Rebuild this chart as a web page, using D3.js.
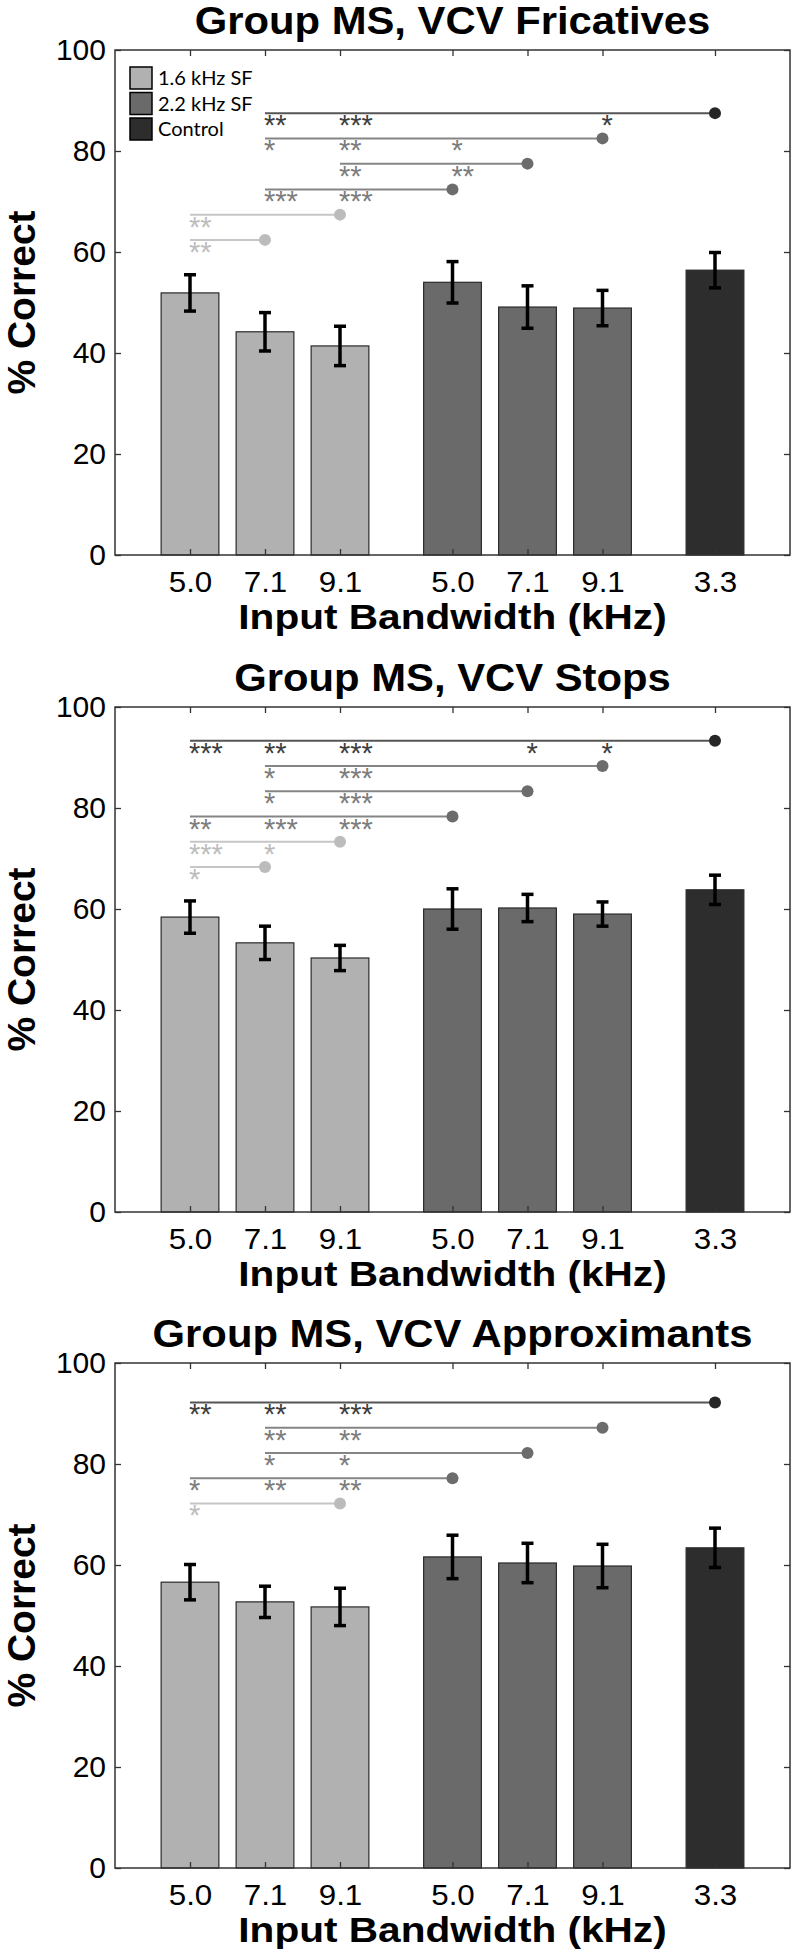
<!DOCTYPE html>
<html>
<head>
<meta charset="utf-8">
<script src="https://cdn.jsdelivr.net/npm/d3@7"></script>
<style>
  html, body { margin: 0; padding: 0; background: #fff; }
  svg { display: block; }
</style>
</head>
<body>
<svg id="chart" width="792" height="1957"></svg>
<script>
// ---------------- DATA ----------------
const categories = ["5.0", "7.1", "9.1", "5.0", "7.1", "9.1", "3.3"];
const categoryPos = [1, 2, 3, 4.5, 5.5, 6.5, 8];
const categoryGroup = [0, 0, 0, 1, 1, 1, 2];
const groupNames = ["1.6 kHz SF", "2.2 kHz SF", "Control"];
const yTicks = [0, 20, 40, 60, 80, 100];

const titles = ["Group MS, VCV Fricatives", "Group MS, VCV Stops", "Group MS, VCV Approximants"];

const fricMeans   = [51.9, 44.2, 41.4, 54.0, 49.1, 48.9, 56.4];
const fricErr     = [3.6, 3.8, 3.9, 4.1, 4.2, 3.5, 3.5];
const stopMeans   = [58.4, 53.3, 50.3, 60.0, 60.2, 59.0, 63.8];
const stopErr     = [3.2, 3.3, 2.5, 4.0, 2.7, 2.4, 2.9];
const approxMeans = [56.6, 52.7, 51.7, 61.6, 60.4, 59.8, 63.4];
const approxErr   = [3.5, 3.1, 3.7, 4.3, 3.9, 4.3, 3.9];

// significance lines: level (% correct), target category index (dot), stars [category index, label]
const fricSig = [
  { level: 87.5, target: 6, stars: [[1, "**"], [2, "***"], [5, "*"]] },
  { level: 82.5, target: 5, stars: [[1, "*"], [2, "**"], [3, "*"]] },
  { level: 77.5, target: 4, stars: [[2, "**"], [3, "**"]] },
  { level: 72.4, target: 3, stars: [[1, "***"], [2, "***"]] },
  { level: 67.4, target: 2, stars: [[0, "**"]] },
  { level: 62.4, target: 1, stars: [[0, "**"]] }
];
const stopSig = [
  { level: 93.3, target: 6, stars: [[0, "***"], [1, "**"], [2, "***"], [4, "*"], [5, "*"]] },
  { level: 88.3, target: 5, stars: [[1, "*"], [2, "***"]] },
  { level: 83.3, target: 4, stars: [[1, "*"], [2, "***"]] },
  { level: 78.3, target: 3, stars: [[0, "**"], [1, "***"], [2, "***"]] },
  { level: 73.3, target: 2, stars: [[0, "***"], [1, "*"]] },
  { level: 68.3, target: 1, stars: [[0, "*"]] }
];
const approxSig = [
  { level: 92.2, target: 6, stars: [[0, "**"], [1, "**"], [2, "***"]] },
  { level: 87.2, target: 5, stars: [[1, "**"], [2, "**"]] },
  { level: 82.2, target: 4, stars: [[1, "*"], [2, "*"]] },
  { level: 77.2, target: 3, stars: [[0, "*"], [1, "**"], [2, "**"]] },
  { level: 72.2, target: 2, stars: [[0, "*"]] }
];

// ---------------- STYLE ----------------
const barFill  = ["#b1b1b1", "#6a6a6a", "#2d2d2d"];
const lineCol  = ["#c6c6c6", "#858585", "#555555"];
const dotCol   = ["#bcbcbc", "#6c6c6c", "#262626"];
const starCol  = ["#bdbdbd", "#7d7d7d", "#3f3f3f"];
const FONT = "'Liberation Sans', Arial, Helvetica, sans-serif";

const panels = [
  { title: titles[0], means: fricMeans,   errs: fricErr,   sig: fricSig,   top: 50,   legend: true },
  { title: titles[1], means: stopMeans,   errs: stopErr,   sig: stopSig,   top: 707,  legend: false },
  { title: titles[2], means: approxMeans, errs: approxErr, sig: approxSig, top: 1363, legend: false }
];

const svg = d3.select("#chart");
svg.append("rect").attr("width", 792).attr("height", 1957).attr("fill", "#fff");

const left = 115, right = 790, plotH = 505;
const x = d3.scaleLinear().domain([0, 9]).range([left, right]);
const barW = x(0.77) - x(0);
const cx = (left + right) / 2;

panels.forEach(p => {
  const y = d3.scaleLinear().domain([0, 100]).range([p.top + plotH, p.top]);
  const g = svg.append("g");
  const data = categories.map((c, i) => ({ c, i, pos: categoryPos[i], grp: categoryGroup[i], m: p.means[i], e: p.errs[i] }));

  // bars
  g.selectAll("rect.bar").data(data).join("rect")
    .attr("class", "bar")
    .attr("x", d => x(d.pos) - barW / 2)
    .attr("width", barW)
    .attr("y", d => y(d.m))
    .attr("height", d => y(0) - y(d.m))
    .attr("fill", d => barFill[d.grp])
    .attr("stroke", "#2a2a2a")
    .attr("stroke-width", 1.2);

  // error bars
  const eb = g.selectAll("g.eb").data(data).join("g").attr("class", "eb")
    .attr("stroke", "#000").attr("stroke-width", 3.5);
  eb.append("line").attr("x1", d => x(d.pos)).attr("x2", d => x(d.pos))
    .attr("y1", d => y(d.m - d.e)).attr("y2", d => y(d.m + d.e));
  eb.append("line").attr("x1", d => x(d.pos) - 6).attr("x2", d => x(d.pos) + 6)
    .attr("y1", d => y(d.m + d.e)).attr("y2", d => y(d.m + d.e));
  eb.append("line").attr("x1", d => x(d.pos) - 6).attr("x2", d => x(d.pos) + 6)
    .attr("y1", d => y(d.m - d.e)).attr("y2", d => y(d.m - d.e));

  // significance lines
  p.sig.forEach(s => {
    const grp = categoryGroup[s.target];
    const from = d3.min(s.stars, st => categoryPos[st[0]]);
    g.append("line")
      .attr("x1", x(from)).attr("x2", x(categoryPos[s.target]))
      .attr("y1", y(s.level)).attr("y2", y(s.level))
      .attr("stroke", lineCol[grp]).attr("stroke-width", 2);
    g.append("circle")
      .attr("cx", x(categoryPos[s.target])).attr("cy", y(s.level))
      .attr("r", 6).attr("fill", dotCol[grp]);
    s.stars.forEach(st => {
      g.append("text")
        .attr("x", x(categoryPos[st[0]]) - 1)
        .attr("y", y(s.level) + 22)
        .attr("font-family", FONT)
        .attr("font-size", 29)
        .attr("fill", starCol[grp])
        .text(st[1]);
    });
  });

  // axes (inward ticks)
  const yl = g.append("g").attr("transform", `translate(${left},0)`)
    .call(d3.axisLeft(y).tickValues(yTicks).tickSizeInner(-6).tickSizeOuter(0).tickPadding(9));
  const yr = g.append("g").attr("transform", `translate(${right},0)`)
    .call(d3.axisRight(y).tickValues(yTicks).tickSizeInner(-6).tickSizeOuter(0).tickFormat(""));
  const xt = g.append("g").attr("transform", `translate(0,${p.top})`)
    .call(d3.axisTop(x).tickValues(categoryPos).tickSizeInner(-6).tickSizeOuter(0).tickFormat(""));
  const xb = g.append("g").attr("transform", `translate(0,${p.top + plotH})`)
    .call(d3.axisBottom(x).tickValues(categoryPos).tickSizeInner(-6).tickSizeOuter(0)
      .tickFormat((d, i) => categories[i]).tickPadding(16));
  [yl, yr, xt, xb].forEach(a => {
    a.select(".domain").remove();
    a.selectAll(".tick line").attr("stroke", "#333").attr("stroke-width", 1.3);
    a.selectAll(".tick text").attr("font-family", FONT).attr("font-size", 30).attr("fill", "#000");
  });
  xb.selectAll(".tick text").attr("font-size", 29).attr("transform", "scale(1.08,1)")
    .attr("x", function () { return 0; });

  // box
  g.append("rect").attr("x", left).attr("y", p.top).attr("width", right - left).attr("height", plotH)
    .attr("fill", "none").attr("stroke", "#333").attr("stroke-width", 1.5);

  // title & labels (slightly wide lettering, as in the reference)
  g.append("text").attr("transform", `translate(${cx},${p.top - 16}) scale(1.1,1)`)
    .attr("text-anchor", "middle").attr("font-family", FONT).attr("font-weight", "bold")
    .attr("font-size", 38).text(p.title);
  g.append("text").attr("transform", `translate(${cx},${p.top + plotH + 74}) scale(1.16,1)`)
    .attr("text-anchor", "middle").attr("font-family", FONT).attr("font-weight", "bold")
    .attr("font-size", 35).text("Input Bandwidth (kHz)");
  g.append("text").attr("transform", `translate(35,${p.top + plotH / 2}) rotate(-90)`)
    .attr("text-anchor", "middle").attr("font-family", FONT).attr("font-weight", "bold")
    .attr("font-size", 39).text("% Correct");

  // legend
  if (p.legend) {
    const lg = g.append("g");
    groupNames.forEach((nm, i) => {
      lg.append("rect").attr("x", 130).attr("y", p.top + 17 + i * 25.5)
        .attr("width", 22).attr("height", 22)
        .attr("fill", barFill[i]).attr("stroke", "#000").attr("stroke-width", 1.5);
      lg.append("text").attr("x", 158).attr("y", p.top + 28 + i * 25.5)
        .attr("dy", "0.35em").attr("font-family", "Lato, 'Open Sans', sans-serif")
        .attr("font-size", 20).attr("fill", "#000").text(nm);
    });
  }
});
</script>
</body>
</html>
